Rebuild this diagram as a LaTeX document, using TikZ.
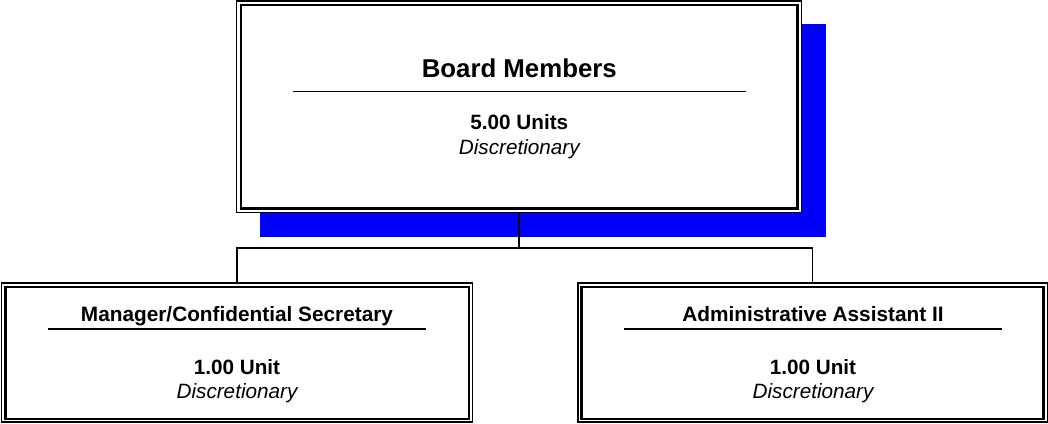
\documentclass[tikz,border=0pt]{standalone}
\usepackage{fontspec}
\setmainfont{Liberation Sans}
\begin{document}
\begin{tikzpicture}[x=1pt,y=-1pt,
  outerbox/.style={draw=black, fill=white, line width=1.5pt, inner sep=0pt},
  innerline/.style={draw=black, line width=2.4pt},
  rulel/.style={draw=black, line width=1.8pt},
  conn/.style={draw=black, line width=1.7pt},
  bigtitle/.style={anchor=base, inner sep=0pt, font=\fontsize{25.8}{30}\selectfont\bfseries},
  smalltitle/.style={anchor=base, inner sep=0pt, font=\fontsize{20.8}{25}\selectfont\bfseries},
  units/.style={anchor=base, inner sep=0pt, font=\fontsize{20.7}{25}\selectfont\bfseries},
  disc/.style={anchor=base, inner sep=0pt, font=\fontsize{20.7}{25}\selectfont\itshape}]
\useasboundingbox (0,0) rectangle (1048,423);
% shadow
\fill[blue] (260,24) rectangle (825.7,236.7);
% top box
\node[outerbox, minimum width=565pt, minimum height=211.7pt] (top) at (519.2,106.85) {};
\draw[innerline] ([shift={(5,4.8)}]top.north west) rectangle ([shift={(-5,-5)}]top.south east);
\node[bigtitle] (toptitle) at (519.3,77.3) {Board Members};
\coordinate (trl) at (292.7,91.5);
\coordinate (trr) at (746,91.5);
\draw[rulel] (trl) -- (trr);
\node[units] (topunits) at (519.3,129.3) {5.00 Units};
\node[disc] (topdisc) at (519.3,154) {Discretionary};
% left box
\node[outerbox, minimum width=470.8pt, minimum height=139pt] (left) at (237.1,352.5) {};
\draw[innerline] ([shift={(4.5,4.8)}]left.north west) rectangle ([shift={(-4.5,-4)}]left.south east);
\node[smalltitle] (lefttitle) at (237,321) {Manager/Confidential Secretary};
\coordinate (lrl) at (48,329.3);
\coordinate (lrr) at (426,329.3);
\draw[rulel] (lrl) -- (lrr);
\node[units] (leftunits) at (237,374) {1.00 Unit};
\node[disc] (leftdisc) at (237,398) {Discretionary};
% right box
\node[outerbox, minimum width=469.5pt, minimum height=139pt] (right) at (812.5,352.5) {};
\draw[innerline] ([shift={(4.5,4.8)}]right.north west) rectangle ([shift={(-4.5,-4)}]right.south east);
\node[smalltitle] (righttitle) at (813,321) {Administrative Assistant II};
\coordinate (rrl) at (624,329.3);
\coordinate (rrr) at (1002,329.3);
\draw[rulel] (rrl) -- (rrr);
\node[units] (rightunits) at (813,374) {1.00 Unit};
\node[disc] (rightdisc) at (813,398) {Discretionary};
% connectors
\coordinate (bar) at (519.2,248.3);
\draw[conn] (top.south) -- (bar);
\draw[conn] (left.north) |- (bar) -| (right.north);
\end{tikzpicture}
\end{document}
